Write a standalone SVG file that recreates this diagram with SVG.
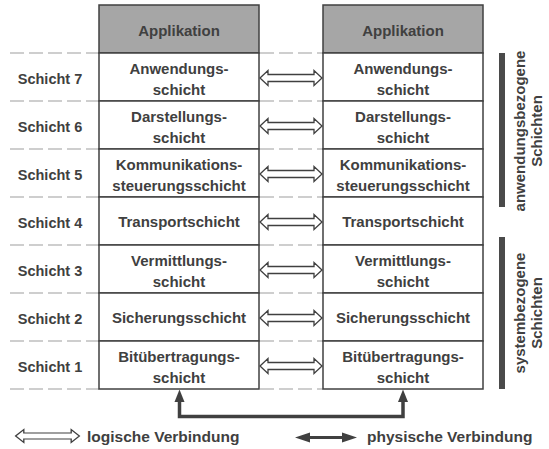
<svg xmlns="http://www.w3.org/2000/svg" width="549" height="449" viewBox="0 0 549 449">
  <style>
    text { font-family: "Liberation Sans", Arial, sans-serif; font-weight: bold; fill: #404040; }
    .lbl { font-size: 14.5px; text-anchor: middle; }
    .cell text { font-size: 15px; text-anchor: middle; }
    .cell rect { fill: #ffffff; stroke: #404040; stroke-width: 1.5; }
    .head rect { fill: #a6a6a6; stroke: #404040; stroke-width: 1.5; }
    .grid line { stroke: #bfbfbf; stroke-width: 1.5; stroke-dasharray: 14 5; }
    .logic { fill: #ffffff; stroke: #404040; stroke-width: 1.3; stroke-linejoin: miter; }
    .phys { fill: none; stroke: #404040; stroke-width: 3.5; }
    .tip { fill: #404040; }
    .bar { fill: #4a4a4a; }
    .side { font-size: 15px; text-anchor: middle; }
    .legend { font-size: 15.5px; }
  </style>
  <defs>
    <!-- hollow double arrow, centred on the origin -->
    <polygon id="dbl" class="logic" points="-31,0 -23,-7.5 -23,-3.5 23,-3.5 23,-7.5 31,0 23,7.5 23,3.5 -23,3.5 -23,7.5"/>
  </defs>

  <!-- dashed layer boundaries -->
  <g class="grid">
    <line x1="10" y1="53" x2="99" y2="53"/><line x1="260" y1="53" x2="323" y2="53"/>
    <line x1="10" y1="101" x2="99" y2="101"/><line x1="260" y1="101" x2="323" y2="101"/>
    <line x1="10" y1="149" x2="99" y2="149"/><line x1="260" y1="149" x2="323" y2="149"/>
    <line x1="10" y1="197" x2="99" y2="197"/><line x1="260" y1="197" x2="323" y2="197"/>
    <line x1="10" y1="245" x2="99" y2="245"/><line x1="260" y1="245" x2="323" y2="245"/>
    <line x1="10" y1="293" x2="99" y2="293"/><line x1="260" y1="293" x2="323" y2="293"/>
    <line x1="10" y1="341" x2="99" y2="341"/><line x1="260" y1="341" x2="323" y2="341"/>
    <line x1="10" y1="389" x2="99" y2="389"/><line x1="260" y1="389" x2="323" y2="389"/>
  </g>

  <!-- layer labels -->
  <g id="labels">
    <text class="lbl" x="50" y="84">Schicht 7</text>
    <text class="lbl" x="50" y="132">Schicht 6</text>
    <text class="lbl" x="50" y="180">Schicht 5</text>
    <text class="lbl" x="50" y="228">Schicht 4</text>
    <text class="lbl" x="50" y="276">Schicht 3</text>
    <text class="lbl" x="50" y="324">Schicht 2</text>
    <text class="lbl" x="50" y="372">Schicht 1</text>
  </g>

  <!-- left stack -->
  <g id="app-a" class="head"><rect x="99" y="5" width="160" height="48"/><text x="179" y="35.5" style="font-size:15px;text-anchor:middle">Applikation</text></g>
  <g id="a7" class="cell"><rect x="99" y="53" width="160" height="48"/><text x="179" y="73.5">Anwendungs-</text><text x="179" y="94.5">schicht</text></g>
  <g id="a6" class="cell"><rect x="99" y="101" width="160" height="48"/><text x="179" y="121.5">Darstellungs-</text><text x="179" y="142.5">schicht</text></g>
  <g id="a5" class="cell"><rect x="99" y="149" width="160" height="48"/><text x="179" y="169.5">Kommunikations-</text><text x="179" y="190.5">steuerungsschicht</text></g>
  <g id="a4" class="cell"><rect x="99" y="197" width="160" height="48"/><text x="179" y="227">Transportschicht</text></g>
  <g id="a3" class="cell"><rect x="99" y="245" width="160" height="48"/><text x="179" y="265.5">Vermittlungs-</text><text x="179" y="286.5">schicht</text></g>
  <g id="a2" class="cell"><rect x="99" y="293" width="160" height="48"/><text x="179" y="323">Sicherungsschicht</text></g>
  <g id="a1" class="cell"><rect x="99" y="341" width="160" height="48"/><text x="179" y="361.5">Bitübertragungs-</text><text x="179" y="382.5">schicht</text></g>

  <!-- right stack -->
  <g id="app-b" class="head"><rect x="323" y="5" width="160" height="48"/><text x="403" y="35.5" style="font-size:15px;text-anchor:middle">Applikation</text></g>
  <g id="b7" class="cell"><rect x="323" y="53" width="160" height="48"/><text x="403" y="73.5">Anwendungs-</text><text x="403" y="94.5">schicht</text></g>
  <g id="b6" class="cell"><rect x="323" y="101" width="160" height="48"/><text x="403" y="121.5">Darstellungs-</text><text x="403" y="142.5">schicht</text></g>
  <g id="b5" class="cell"><rect x="323" y="149" width="160" height="48"/><text x="403" y="169.5">Kommunikations-</text><text x="403" y="190.5">steuerungsschicht</text></g>
  <g id="b4" class="cell"><rect x="323" y="197" width="160" height="48"/><text x="403" y="227">Transportschicht</text></g>
  <g id="b3" class="cell"><rect x="323" y="245" width="160" height="48"/><text x="403" y="265.5">Vermittlungs-</text><text x="403" y="286.5">schicht</text></g>
  <g id="b2" class="cell"><rect x="323" y="293" width="160" height="48"/><text x="403" y="323">Sicherungsschicht</text></g>
  <g id="b1" class="cell"><rect x="323" y="341" width="160" height="48"/><text x="403" y="361.5">Bitübertragungs-</text><text x="403" y="382.5">schicht</text></g>

  <!-- connectors: logical peer links and the physical medium -->
  <g id="connectors">
    <use href="#dbl" x="291" y="78"/>
    <use href="#dbl" x="291" y="126"/>
    <use href="#dbl" x="291" y="174"/>
    <use href="#dbl" x="291" y="222"/>
    <use href="#dbl" x="291" y="270"/>
    <use href="#dbl" x="291" y="318"/>
    <use href="#dbl" x="291" y="366"/>
    <path class="phys" d="M179.5 400 V416.5 H403 V400"/>
    <polygon class="tip" points="179.5,389.5 174.5,402 184.5,402"/>
    <polygon class="tip" points="403,389.5 398,402 408,402"/>
  </g>

  <!-- side groupings -->
  <g id="upper-group">
    <rect class="bar" x="499" y="53" width="6" height="154"/>
    <text class="side" transform="translate(524.5 131) rotate(-90)">anwendungsbezogene</text>
    <text class="side" transform="translate(542 131) rotate(-90)">Schichten</text>
  </g>
  <g id="lower-group">
    <rect class="bar" x="499" y="237" width="6" height="152"/>
    <text class="side" transform="translate(524.5 313) rotate(-90)">systembezogene</text>
    <text class="side" transform="translate(542 313) rotate(-90)">Schichten</text>
  </g>

  <!-- legend -->
  <g id="legend">
    <use href="#dbl" transform="translate(47.5 436) scale(1.03 0.85)"/>
    <text class="legend" x="87" y="441.5">logische Verbindung</text>
    <line x1="306" y1="437.5" x2="346" y2="437.5" stroke="#404040" stroke-width="3"/>
    <polygon class="tip" points="295,437.5 310,432.5 310,442.5"/>
    <polygon class="tip" points="357,437.5 342,432.5 342,442.5"/>
    <text class="legend" x="367" y="442">physische Verbindung</text>
  </g>
</svg>
